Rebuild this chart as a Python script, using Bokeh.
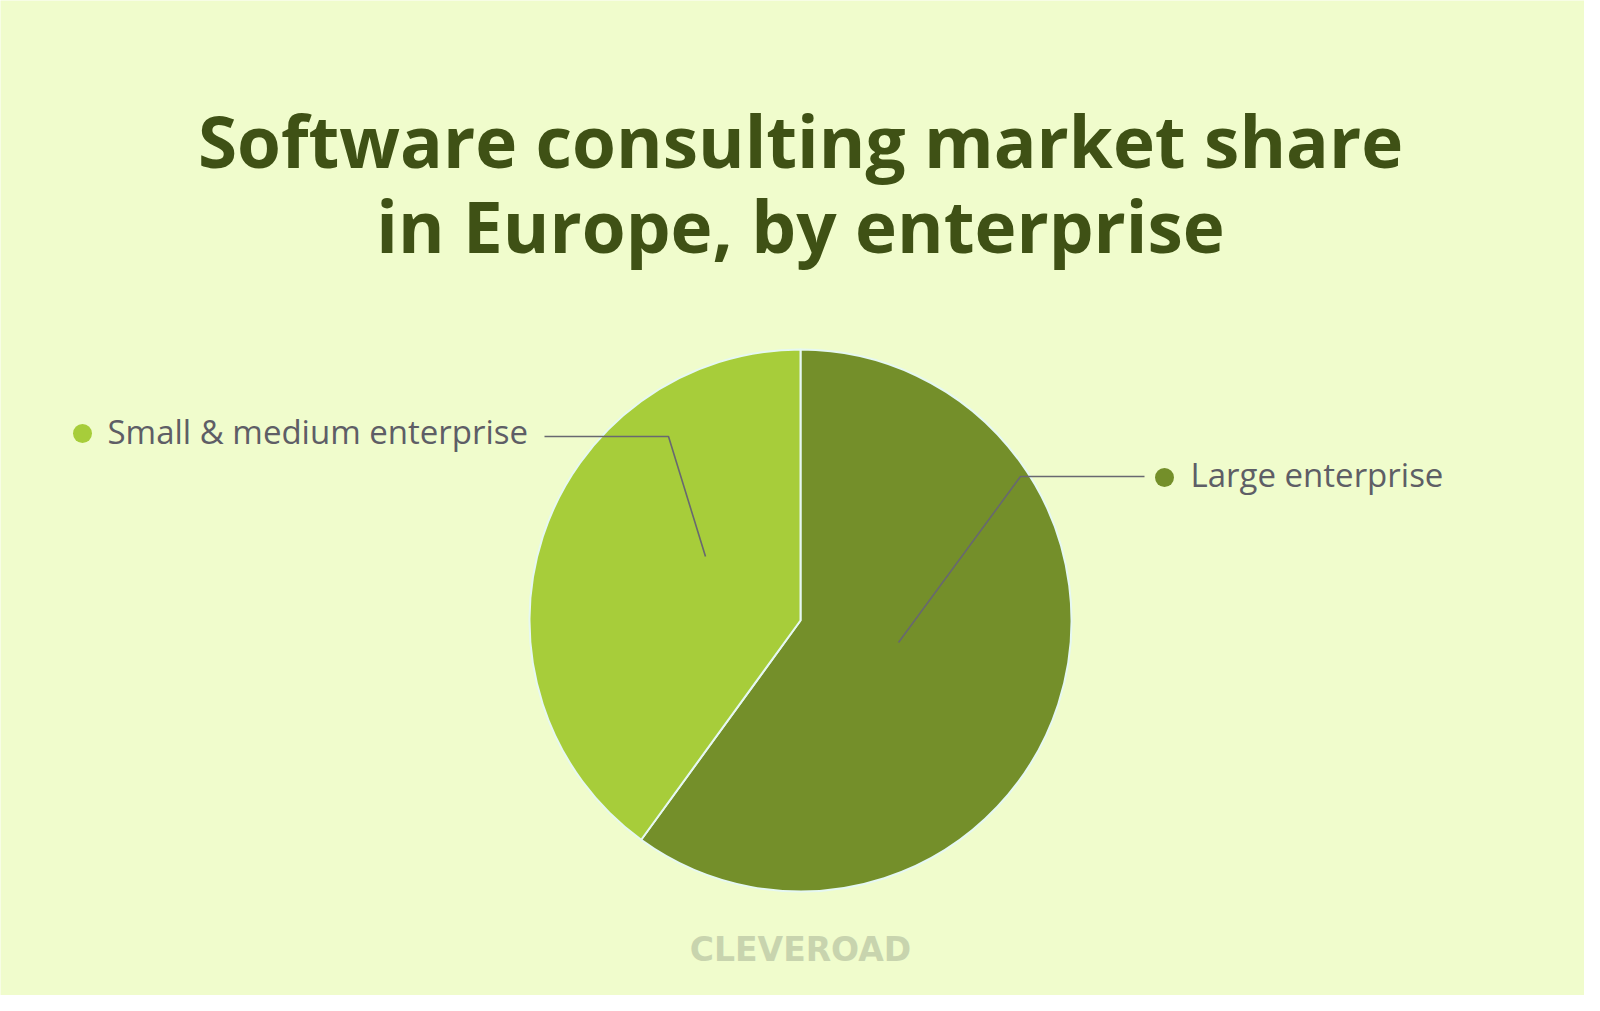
import numpy as np
from bokeh.plotting import figure
from bokeh.models import Range1d, ColumnDataSource
from bokeh.core.properties import value
from bokeh.embed import file_html
from bokeh.resources import INLINE

# ---- data ----
categories = ["Large enterprise", "Small & medium enterprise"]
shares = [60, 40]
colors = ["#748F2A", "#A7CD3A"]
title_lines = ["Software consulting market share", "in Europe, by enterprise"]
watermark = "CLEVEROAD"

BG = "#F0FCCC"
W, H = 1584, 995
BASE_FIX = 0.4  # em offset correction for alphabetic baseline

def px(x):
    return x

def py(y):
    return H - y

def pyb(y, size):
    # target baseline (page y) -> data y, corrected
    return H - (y - BASE_FIX * size)

p = figure(width=W, height=H, x_range=Range1d(0, W), y_range=Range1d(0, H),
           output_backend="svg", toolbar_location=None, min_border=0)
p.axis.visible = False
p.grid.visible = False
p.outline_line_color = None
p.background_fill_color = BG
p.border_fill_color = BG

# ---- pie ----
frac = np.array(shares, dtype=float) / sum(shares)
cum = np.concatenate([[0], np.cumsum(frac)])
start = np.pi / 2 - 2 * np.pi * cum[:-1]
end = np.pi / 2 - 2 * np.pi * cum[1:]
cx, cy, r = px(800), py(620), 271
src = ColumnDataSource(dict(cat=categories, share=shares, start=start, end=end, color=colors))
p.wedge(x=cx, y=cy, radius=r, start_angle="start", end_angle="end", direction="clock",
        fill_color="color", line_color="#E6F8F2", line_width=2, source=src)

# ---- leader lines ----
lead_color = "#686870"
p.line(x=[px(705), px(668), px(544)], y=[py(556), py(436), py(436)], line_color=lead_color, line_width=1.6)
p.line(x=[px(898), px(1020), px(1144)], y=[py(642), py(476), py(476)], line_color=lead_color, line_width=1.6)

# ---- legend-like labels ----
p.scatter(x=[px(1164), px(82)], y=[py(477), py(433)], size=19, marker="circle",
          fill_color=colors, line_color=None)
LS = 33
p.text(x=[px(1190), px(107)], y=[pyb(487, LS), pyb(444, LS)], text=categories,
       text_font=value("Open Sans"), text_font_size=f"{LS}px", text_color="#5E5E66",
       text_align="left", text_baseline="alphabetic")

# ---- title ----
TS = 71
p.text(x=[px(800), px(800)], y=[pyb(168, TS), pyb(253, TS)], text=title_lines,
       text_font=value("Open Sans"), text_font_style="bold", text_font_size=f"{TS}px",
       text_color="#3F5115", text_align="center", text_baseline="alphabetic")

# ---- watermark ----
WS = 33
p.text(x=[px(800)], y=[pyb(962, WS)], text=[watermark],
       text_font=value("DejaVu Sans"), text_font_style="bold", text_font_size=f"{WS}px",
       text_color="#C8D4AE", text_align="center", text_baseline="alphabetic")

open("out.html", "w").write(file_html(p, INLINE))
